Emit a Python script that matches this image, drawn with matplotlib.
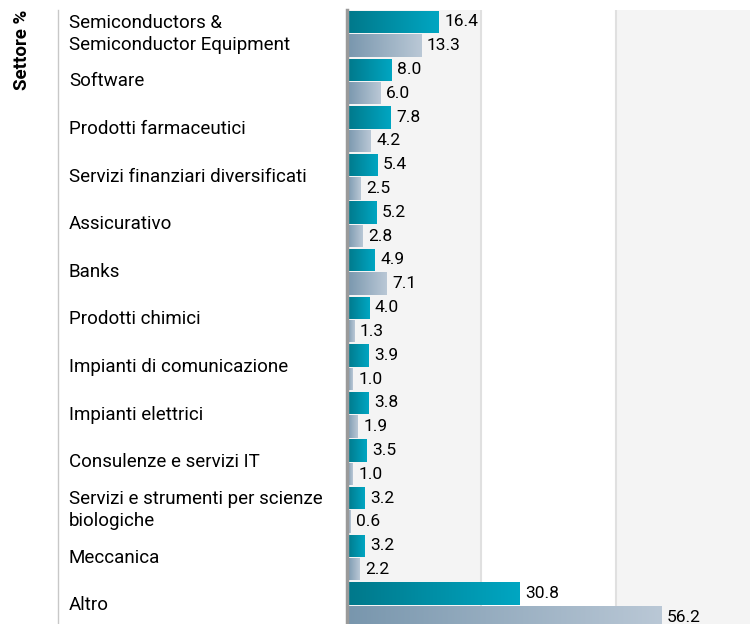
import matplotlib.pyplot as plt
import numpy as np
from matplotlib.colors import LinearSegmentedColormap
from matplotlib.lines import Line2D
import matplotlib.transforms as mtransforms

plt.rcParams['font.family'] = ['Roboto', 'DejaVu Sans']

sectors = [
    "Semiconductors &\nSemiconductor Equipment",
    "Software",
    "Prodotti farmaceutici",
    "Servizi finanziari diversificati",
    "Assicurativo",
    "Banks",
    "Prodotti chimici",
    "Impianti di comunicazione",
    "Impianti elettrici",
    "Consulenze e servizi IT",
    "Servizi e strumenti per scienze\nbiologiche",
    "Meccanica",
    "Altro",
]
fund = [16.4, 8.0, 7.8, 5.4, 5.2, 4.9, 4.0, 3.9, 3.8, 3.5, 3.2, 3.2, 30.8]
benchmark = [13.3, 6.0, 4.2, 2.5, 2.8, 7.1, 1.3, 1.0, 1.9, 1.0, 0.6, 2.2, 56.2]

teal_cmap = LinearSegmentedColormap.from_list("teal", ["#00788a", "#00a6c2"])
grey_cmap = LinearSegmentedColormap.from_list("grey", ["#7896ad", "#bac8d6"])

fig = plt.figure(figsize=(7.5, 6.24), dpi=100)
# plot area runs a little past the bottom edge, as in the original crop
ax_bottom = -5 / 624
ax_top = 1 - 10 / 624
ax = fig.add_axes([347 / 750, ax_bottom, 1 - 347 / 750, ax_top - ax_bottom])

n = len(sectors)
y = np.arange(n)
h = 0.47
xmax = 72

# background bands
for i, x0 in enumerate(range(0, xmax, 24)):
    ax.axvspan(x0, x0 + 24, color="#f4f4f4" if i % 2 == 0 else "white", zorder=0, lw=0)
    if x0 > 0:
        ax.axvline(x0, color="#e0e0e0", lw=1.5, zorder=0.5)

grad = np.linspace(0, 1, 256).reshape(1, -1)


def gradient_bars(vals, offset, cmap):
    bars = ax.barh(y + offset, vals, height=h, color="none", lw=0, zorder=2)
    for b in bars:
        x0, y0 = b.get_x(), b.get_y()
        im = ax.imshow(grad, cmap=cmap, aspect="auto", zorder=2,
                       extent=[x0, x0 + b.get_width(), y0 + b.get_height(), y0])
        im.set_clip_path(b)
    return bars


gradient_bars(fund, -0.245, teal_cmap)
gradient_bars(benchmark, 0.245, grey_cmap)

for i in range(n):
    ax.text(fund[i] + 1.0, y[i] - 0.25, f"{fund[i]:.1f}", va="center", ha="left", fontsize=12.5, zorder=3)
    ax.text(benchmark[i] + 1.0, y[i] + 0.25, f"{benchmark[i]:.1f}", va="center", ha="left", fontsize=12.5, zorder=3)

ax.set_xlim(0, xmax)
ax.set_ylim(n - 0.5, -0.5)
ax.set_xticks([])
ax.set_yticks([])
for s in ["top", "right", "bottom"]:
    ax.spines[s].set_visible(False)
ax.spines["left"].set_color("#9a9a9a")
ax.spines["left"].set_linewidth(2.5)

# category labels
trans = mtransforms.blended_transform_factory(fig.transFigure, ax.transData)
for i, s in enumerate(sectors):
    ax.text(69 / 750, y[i], s, transform=trans, ha="left", va="center",
            fontsize=13.5, linespacing=1.3, clip_on=False)

fig.add_artist(Line2D([58 / 750, 58 / 750], [0, ax_top], color="#c8c8c8", lw=1,
                      transform=fig.transFigure))
fig.text(22 / 750, ax_top, "Settore %", rotation=90, ha="center", va="top",
         fontsize=13.5, fontweight="bold")

fig.savefig("out.png", dpi=100)
